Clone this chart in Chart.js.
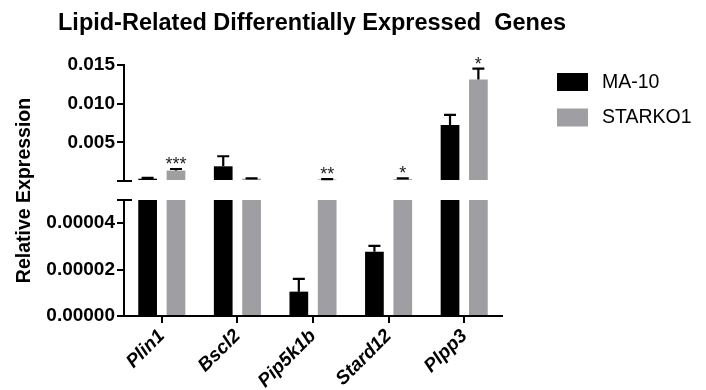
<!DOCTYPE html>
<html>
<head>
<meta charset="utf-8">
<script src="https://cdn.jsdelivr.net/npm/chart.js@4.4.1/dist/chart.umd.min.js"></script>
<style>
  html, body { margin: 0; padding: 0; background: #fff; }
  #wrap { width: 706px; height: 390px; }
</style>
</head>
<body>
<div id="wrap"><canvas id="geneChart"></canvas></div>
<script>
const chartTitle = "Lipid-Related Differentially Expressed  Genes";
const genes = ["Plin1", "Bscl2", "Pip5k1b", "Stard12", "Plpp3"];
const ma10 = [0.0003, 0.0019, 0.0000105, 0.0000277, 0.00724];
const ma10Err = [0.0001, 0.0013, 0.0000055, 0.0000025, 0.0013];
const starko1 = [0.00135, 0.0003, 0.0002, 0.00025, 0.01314];
const starko1Err = [0.0002, 0.00005, 0.00003, 0.0001, 0.0014];
const starko1Sig = ["***", "", "**", "*", "*"];
const topTicks = [0, 0.005, 0.010, 0.015];
const lowTicks = [0, 0.00002, 0.00004];
const lowMax = 0.00005;
const highMax = 0.015;

const BLACK = "#000000";
const GREY = "#9f9fa3";
const FONT = "'Liberation Sans', Arial, sans-serif";

Chart.defaults.font.family = FONT;
Chart.defaults.color = BLACK;

// bars drawn on the upper segment only when they pass the break
const topPart = (vals) => vals.map((v) => (v > lowMax ? v : null));
const lowPart = (vals) => vals.map((v) => Math.min(v, lowMax));

const axisLines = {
  grid: { drawOnChartArea: false, tickLength: 7, lineWidth: 2, color: BLACK },
  border: { color: BLACK, width: 2 }
};

const errorBars = {
  id: "errorBars",
  afterDatasetsDraw(chart) {
    const { ctx } = chart;
    const { yTop, yBot } = chart.scales;
    const series = [
      { vals: ma10, errs: ma10Err, sig: null, meta: chart.getDatasetMeta(2) },
      { vals: starko1, errs: starko1Err, sig: starko1Sig, meta: chart.getDatasetMeta(3) }
    ];
    ctx.save();
    ctx.strokeStyle = BLACK;
    ctx.lineWidth = 2.2;
    ctx.font = `18px ${FONT}`;
    ctx.textAlign = "center";
    ctx.textBaseline = "alphabetic";
    ctx.fillStyle = "#222";
    series.forEach((s) => {
      s.vals.forEach((v, i) => {
        const scale = v > lowMax ? yTop : yBot;
        const x = s.meta.data[i].x;
        const y0 = scale.getPixelForValue(v);
        const y1 = scale.getPixelForValue(v + s.errs[i]);
        ctx.beginPath();
        ctx.moveTo(x, y0);
        ctx.lineTo(x, y1);
        ctx.moveTo(x - 6, y1);
        ctx.lineTo(x + 6, y1);
        ctx.stroke();
        if (s.sig && s.sig[i]) ctx.fillText(s.sig[i], x, y1 + 1);
      });
    });
    ctx.restore();
  }
};

const axisBreak = {
  id: "axisBreak",
  afterDraw(chart) {
    const { ctx } = chart;
    const { yTop, yBot } = chart.scales;
    ctx.save();
    ctx.strokeStyle = BLACK;
    ctx.lineWidth = 2;
    [yTop.bottom, yBot.top].forEach((y) => {
      ctx.beginPath();
      ctx.moveTo(yTop.right - 7, y);
      ctx.lineTo(yTop.right + 8, y);
      ctx.stroke();
    });
    ctx.restore();
  }
};

const headerAndKey = {
  id: "headerAndKey",
  afterDraw(chart) {
    const { ctx } = chart;
    ctx.save();
    ctx.fillStyle = BLACK;
    ctx.font = `bold 23.5px ${FONT}`;
    ctx.textBaseline = "alphabetic";
    ctx.fillText(chartTitle, 58, 30);
    ctx.font = `19.5px ${FONT}`;
    ctx.textBaseline = "middle";
    chart.data.datasets.slice(0, 2).forEach((ds, i) => {
      const y = 73 + i * 35.5;
      ctx.fillStyle = ds.backgroundColor;
      ctx.fillRect(557, y, 31, 18);
      ctx.fillStyle = BLACK;
      ctx.fillText(ds.label, 602, y + 9.5);
    });
    ctx.restore();
  }
};

new Chart(document.getElementById("geneChart"), {
  type: "bar",
  data: {
    labels: genes,
    datasets: [
      { label: "MA-10", data: topPart(ma10), yAxisID: "yTop", stack: "ma", backgroundColor: BLACK },
      { label: "STARKO1", data: topPart(starko1), yAxisID: "yTop", stack: "sk", backgroundColor: GREY },
      { label: "MA-10", data: lowPart(ma10), yAxisID: "yBot", stack: "ma", backgroundColor: BLACK },
      { label: "STARKO1", data: lowPart(starko1), yAxisID: "yBot", stack: "sk", backgroundColor: GREY }
    ]
  },
  options: {
    responsive: true,
    maintainAspectRatio: false,
    animation: false,
    categoryPercentage: 0.75,
    barPercentage: 0.66,
    layout: { padding: { top: 65, right: 204, bottom: 0, left: 0 } },
    plugins: {
      legend: { display: false },
      tooltip: { enabled: false }
    },
    scales: {
      x: {
        grid: { drawOnChartArea: false, offset: false, tickLength: 7, lineWidth: 2, color: BLACK },
        border: { color: BLACK, width: 2 },
        ticks: {
          font: { size: 19, weight: "bold", style: "italic" },
          minRotation: 45,
          maxRotation: 45,
          padding: 2
        },
        afterFit: (s) => { s.height = 74; }
      },
      // stacked axes are laid out bottom-up, so the lower segment comes first
      yBot: {
        type: "linear",
        position: "left",
        stack: "y",
        stackWeight: 116,
        stacked: false,
        min: 0,
        max: lowMax,
        ...axisLines,
        ticks: {
          autoSkip: false,
          padding: 2,
          font: { size: 19, weight: "bold" },
          callback: (v) => v.toFixed(5)
        },
        afterBuildTicks: (s) => { s.ticks = lowTicks.map((value) => ({ value })); },
        afterFit: (s) => { s.width = 124; }
      },
      yGap: {
        type: "linear",
        position: "left",
        stack: "y",
        stackWeight: 19,
        min: 0,
        max: 1,
        grid: { display: false },
        border: { display: false },
        ticks: { display: false },
        title: {
          display: true,
          text: "Relative Expression",
          font: { size: 19.5, weight: "bold" },
          padding: { top: 13, bottom: 0 }
        },
        afterFit: (s) => { s.width = 124; }
      },
      yTop: {
        type: "linear",
        position: "left",
        stack: "y",
        stackWeight: 116,
        stacked: false,
        min: 0,
        max: highMax,
        ...axisLines,
        ticks: {
          autoSkip: false,
          padding: 2,
          font: { size: 19, weight: "bold" },
          callback: (v) => (v === 0 ? "" : v.toFixed(3))
        },
        afterBuildTicks: (s) => { s.ticks = topTicks.map((value) => ({ value })); },
        afterFit: (s) => { s.width = 124; }
      }
    }
  },
  plugins: [errorBars, axisBreak, headerAndKey]
});
</script>
</body>
</html>
